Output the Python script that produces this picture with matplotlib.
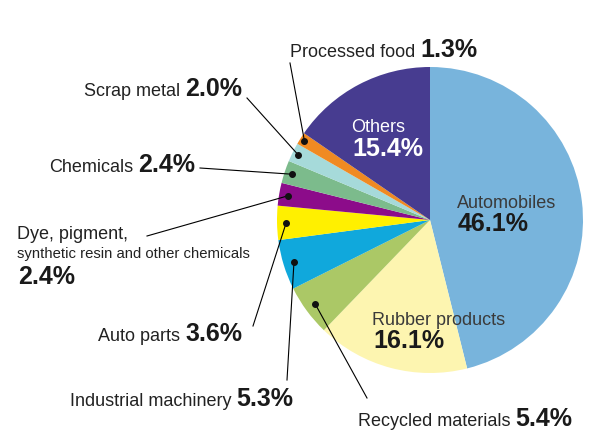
import numpy as np
import matplotlib
matplotlib.use("Agg")
import matplotlib.pyplot as plt

plt.rcParams['font.family'] = ['Liberation Sans', 'DejaVu Sans']

# Share by sector, clockwise from 12 o'clock
labels = ["Automobiles", "Rubber products", "Recycled materials", "Industrial machinery",
          "Auto parts", "Dye, pigment, synthetic resin and other chemicals", "Chemicals",
          "Scrap metal", "Processed food", "Others"]
values = [46.1, 16.1, 5.4, 5.3, 3.6, 2.4, 2.4, 2.0, 1.3, 15.4]
colors = ["#78b4dc", "#fdf5b0", "#abc866", "#10a8dc", "#fff000", "#8c0c8a",
          "#7cbb8c", "#a6dada", "#f08a22", "#473c90"]

W, H = 600, 432
def Y(y):
    # pixel row -> data y
    return H - y

fig = plt.figure(figsize=(6, 4.32), dpi=100)
ax = fig.add_axes([0, 0, 1, 1])

cx, cy, R = 430, Y(220), 153
wedges, _ = ax.pie(values, colors=colors, startangle=90, counterclock=False,
                   center=(cx, cy), radius=R, wedgeprops=dict(linewidth=0))

ax.set_xlim(0, W)
ax.set_ylim(0, H)
ax.set_aspect('equal')
ax.axis('off')

REG = 13
BIG = 18

# labels inside the pie
def inside(x, y1, name, y2, pct, col_name, col_pct):
    ax.text(x, Y(y1), name, fontsize=REG, color=col_name, va='baseline', ha='left')
    ax.text(x + 1, Y(y2), pct, fontsize=BIG, color=col_pct, fontweight='bold',
            va='baseline', ha='left')

inside(457, 208, labels[0], 231, "%.1f%%" % values[0], "#3a3a3a", "#1a1a1a")
inside(372, 325, labels[1], 348, "%.1f%%" % values[1], "#3a3a3a", "#1a1a1a")
inside(351, 132, labels[9], 156, "%.1f%%" % values[9], "white", "white")

# outside labels: index, split x, baseline, line end (pixel coords), dot radius
outside = [
    (8, 415, 57, (290, 63), 0.97),
    (7, 180, 96, (247, 98), 0.96),
    (6, 133, 172, (200, 168), 0.95),
    (4, 180, 341, (253, 326), 0.94),
    (3, 231, 406, (287, 380), 0.93),
    (2, 510, 426, (367, 398), 0.93),
]

def dot_pos(i, frac):
    w = wedges[i]
    th = np.deg2rad((w.theta1 + w.theta2) / 2)
    return cx + frac * R * np.cos(th), cy + frac * R * np.sin(th)

for i, xs, yb, end, frac in outside:
    ax.text(xs, Y(yb), labels[i], fontsize=REG, color="#222222", va='baseline', ha='right')
    ax.text(xs + 5, Y(yb), "%.1f%%" % values[i], fontsize=BIG, color="#1a1a1a",
            fontweight='bold', va='baseline', ha='left')
    px, py = dot_pos(i, frac)
    ax.plot([end[0], px], [Y(end[1]), py], color="black", lw=0.8)
    ax.plot(px, py, 'o', color="#111111", ms=4)

# dye label on three lines
ax.text(17, Y(239), "Dye, pigment,", fontsize=REG, color="#222222", va='baseline', ha='left')
ax.text(17, Y(258), "synthetic resin and other chemicals", fontsize=10.7, color="#222222",
        va='baseline', ha='left')
ax.text(18, Y(284), "%.1f%%" % values[5], fontsize=BIG, color="#1a1a1a", fontweight='bold',
        va='baseline', ha='left')
px, py = dot_pos(5, 0.94)
ax.plot([147, px], [Y(236), py], color="black", lw=0.8)
ax.plot(px, py, 'o', color="#111111", ms=4)

fig.savefig("out.png", dpi=100)
